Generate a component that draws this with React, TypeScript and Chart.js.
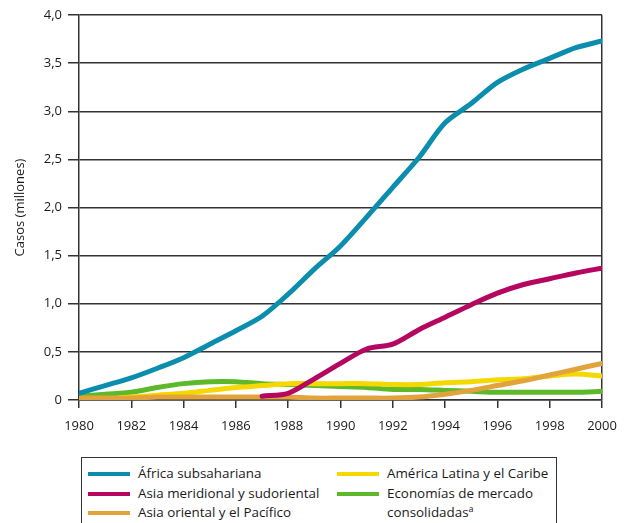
import React, { useEffect, useRef } from "react";
import { Chart, registerables } from "chart.js";

Chart.register(...registerables);

const years = [1980, 1981, 1982, 1983, 1984, 1985, 1986, 1987, 1988, 1989, 1990, 1991, 1992, 1993, 1994, 1995, 1996, 1997, 1998, 1999, 2000];
const africa = [0.07, 0.15, 0.23, 0.33, 0.44, 0.58, 0.72, 0.87, 1.1, 1.36, 1.6, 1.9, 2.21, 2.52, 2.88, 3.08, 3.3, 3.44, 3.55, 3.66, 3.73];
const asiaMeridional = [null, null, null, null, null, null, null, 0.04, 0.07, 0.22, 0.38, 0.53, 0.58, 0.73, 0.86, 0.99, 1.11, 1.2, 1.26, 1.32, 1.37];
const asiaOriental = [0.02, 0.02, 0.02, 0.03, 0.03, 0.03, 0.03, 0.03, 0.03, 0.02, 0.02, 0.02, 0.02, 0.03, 0.06, 0.1, 0.15, 0.2, 0.26, 0.32, 0.38];
const americaLatina = [0.0, 0.01, 0.03, 0.05, 0.07, 0.1, 0.13, 0.15, 0.17, 0.17, 0.17, 0.17, 0.16, 0.16, 0.18, 0.19, 0.21, 0.22, 0.25, 0.27, 0.25];
const economias = [0.04, 0.06, 0.08, 0.13, 0.17, 0.19, 0.19, 0.17, 0.16, 0.15, 0.14, 0.13, 0.11, 0.11, 0.1, 0.09, 0.08, 0.08, 0.08, 0.08, 0.09];

const seriesNames = ["África subsahariana", "Asia meridional y sudoriental", "Asia oriental y el Pacífico", "América Latina y el Caribe", "Economías de mercado consolidadas"];
const colors = ["#0B8DAE", "#B5075F", "#E3A33C", "#F5D800", "#5DB92A"];
const yTicks = [0, 0.5, 1, 1.5, 2, 2.5, 3, 3.5, 4];

const FONT = "'Open Sans', 'Noto Sans', sans-serif";

export default function App() {
  const ref = useRef<HTMLCanvasElement>(null);
  useEffect(() => {
    document.body.style.margin = "0";
    const allSeries = [africa, asiaMeridional, asiaOriental, americaLatina, economias];
    const chart = new Chart(ref.current!, {
      type: "line",
      data: {
        datasets: allSeries.map((s, i) => ({
          label: seriesNames[i],
          data: years.map((y, j) => ({ x: y, y: s[j] })),
          borderColor: colors[i],
          backgroundColor: colors[i],
          borderWidth: 5,
          pointRadius: 0,
          tension: 0.3,
          borderCapStyle: "round",
          borderJoinStyle: "round",
          spanGaps: false,
          order: i,
        })) as any,
      },
      options: {
        responsive: false,
        animation: false,
        layout: { padding: { top: 15, right: 27, left: 0, bottom: 0 } },
        plugins: { legend: { display: false }, tooltip: { enabled: false } },
        scales: {
          x: {
            type: "linear",
            min: 1980,
            max: 2000,
            afterFit: (s: any) => { s.height = 45; },
            ticks: {
              stepSize: 2,
              callback: (v: any) => String(v),
              font: { family: FONT, size: 13 },
              color: "#1a1a1a",
              padding: 10,
              maxRotation: 0,
            },
            grid: {
              color: (ctx: any) => (ctx.tick && ctx.tick.value === 2000 ? "#333" : "rgba(0,0,0,0)"),
              tickColor: "#333",
              tickLength: 8,
              lineWidth: 1.5,
            },
            border: { display: true, color: "#333", width: 1.5 },
          },
          y: {
            min: 0,
            max: 4,
            afterFit: (s: any) => { s.width = 79; },
            afterBuildTicks: (s: any) => { s.ticks = yTicks.map((v) => ({ value: v })); },
            ticks: {
              callback: (v: any) => (v === 0 ? "0" : Number(v).toFixed(1).replace(".", ",")),
              font: { family: FONT, size: 13 },
              color: "#1a1a1a",
              padding: 6,
            },
            grid: { color: "#333", lineWidth: 1.5, tickLength: 11, tickColor: "#333" },
            border: { display: true, color: "#333", width: 1.5 },
            title: {
              display: true,
              text: "Casos (millones)",
              font: { family: FONT, size: 13 },
              color: "#1a1a1a",
              padding: { top: 12, bottom: 0 },
            },
          },
        },
      },
    });
    return () => chart.destroy();
  }, []);

  const itemStyle = (left: number, top: number): React.CSSProperties => ({
    position: "absolute",
    left,
    top,
    display: "flex",
    alignItems: "flex-start",
  });
  const swatch = (c: string): React.CSSProperties => ({
    width: 42,
    height: 4,
    background: c,
    marginTop: 8,
    marginRight: 8,
  });
  const textStyle: React.CSSProperties = { fontFamily: FONT, fontSize: 13.4, color: "#1a1a1a", lineHeight: "19px", whiteSpace: "nowrap" };

  return (
    <div style={{ position: "relative", width: 629, height: 523, overflow: "hidden", background: "#fff" }}>
      <canvas ref={ref} width={629} height={445} style={{ display: "block" }} />
      <div
        style={{
          position: "absolute",
          left: 81,
          top: 457,
          width: 476,
          height: 90,
          border: "1.5px solid #333",
          boxSizing: "border-box",
        }}
      />
      <div style={itemStyle(88, 464)}>
        <div style={swatch(colors[0])} />
        <span style={textStyle}>{seriesNames[0]}</span>
      </div>
      <div style={itemStyle(88, 484)}>
        <div style={swatch(colors[1])} />
        <span style={textStyle}>{seriesNames[1]}</span>
      </div>
      <div style={itemStyle(88, 503)}>
        <div style={swatch(colors[2])} />
        <span style={textStyle}>{seriesNames[2]}</span>
      </div>
      <div style={itemStyle(337, 464)}>
        <div style={swatch(colors[3])} />
        <span style={textStyle}>{seriesNames[3]}</span>
      </div>
      <div style={itemStyle(337, 484)}>
        <div style={swatch(colors[4])} />
        <span style={textStyle}>
          Economías de mercado
          <br />
          consolidadas<sup style={{ fontSize: 9, lineHeight: 0 }}>a</sup>
        </span>
      </div>
    </div>
  );
}
